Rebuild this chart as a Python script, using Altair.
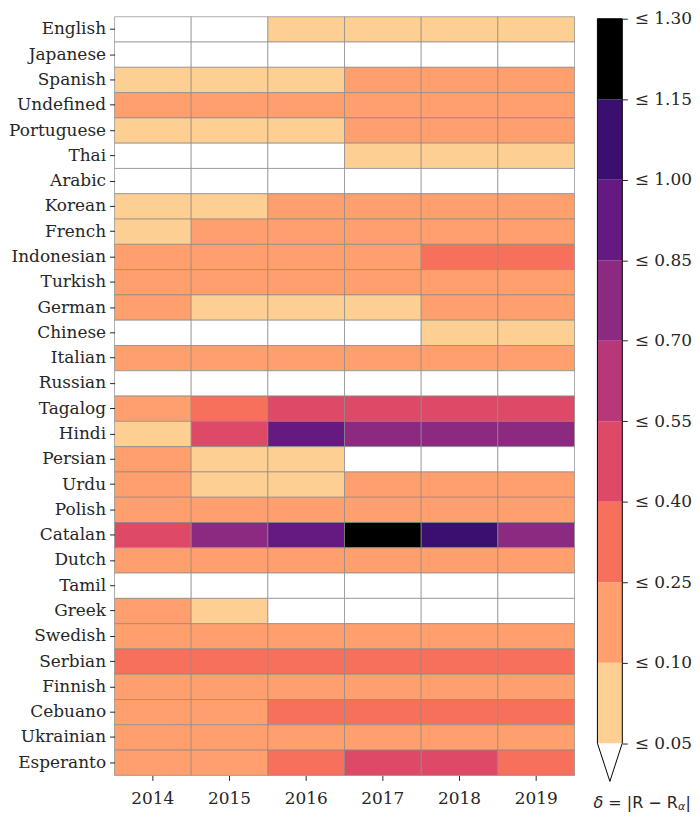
import altair as alt
import pandas as pd

languages = ["English", "Japanese", "Spanish", "Undefined", "Portuguese", "Thai", "Arabic",
             "Korean", "French", "Indonesian", "Turkish", "German", "Chinese", "Italian",
             "Russian", "Tagalog", "Hindi", "Persian", "Urdu", "Polish", "Catalan", "Dutch",
             "Tamil", "Greek", "Swedish", "Serbian", "Finnish", "Cebuano", "Ukrainian", "Esperanto"]
years = ["2014", "2015", "2016", "2017", "2018", "2019"]

delta_2014 = [0.03, 0.03, 0.08, 0.18, 0.08, 0.03, 0.03, 0.08, 0.08, 0.18, 0.18, 0.18, 0.03, 0.18, 0.03,
              0.18, 0.08, 0.18, 0.18, 0.18, 0.48, 0.18, 0.03, 0.18, 0.18, 0.32, 0.18, 0.18, 0.18, 0.18]
delta_2015 = [0.03, 0.02, 0.08, 0.17, 0.09, 0.03, 0.02, 0.09, 0.13, 0.19, 0.18, 0.09, 0.03, 0.17, 0.02,
              0.30, 0.45, 0.08, 0.08, 0.18, 0.76, 0.19, 0.02, 0.07, 0.18, 0.33, 0.18, 0.21, 0.18, 0.20]
delta_2016 = [0.07, 0.03, 0.09, 0.19, 0.09, 0.04, 0.03, 0.14, 0.16, 0.20, 0.19, 0.08, 0.04, 0.18, 0.02,
              0.45, 0.93, 0.09, 0.09, 0.19, 0.90, 0.18, 0.02, 0.04, 0.18, 0.34, 0.17, 0.29, 0.17, 0.31]
delta_2017 = [0.08, 0.03, 0.12, 0.20, 0.13, 0.07, 0.03, 0.16, 0.18, 0.22, 0.20, 0.09, 0.04, 0.19, 0.03,
              0.47, 0.80, 0.04, 0.14, 0.20, 1.24, 0.19, 0.03, 0.03, 0.19, 0.35, 0.18, 0.31, 0.18, 0.44]
delta_2018 = [0.08, 0.03, 0.14, 0.21, 0.15, 0.08, 0.04, 0.18, 0.19, 0.28, 0.21, 0.12, 0.07, 0.20, 0.03,
              0.48, 0.79, 0.04, 0.15, 0.21, 1.07, 0.20, 0.03, 0.03, 0.20, 0.36, 0.19, 0.33, 0.19, 0.46]
delta_2019 = [0.09, 0.04, 0.15, 0.22, 0.16, 0.09, 0.04, 0.19, 0.20, 0.30, 0.22, 0.14, 0.08, 0.21, 0.04,
              0.50, 0.77, 0.04, 0.16, 0.22, 0.80, 0.21, 0.03, 0.04, 0.21, 0.36, 0.20, 0.34, 0.20, 0.37]

bounds = [0.05, 0.10, 0.25, 0.40, 0.55, 0.70, 0.85, 1.00, 1.15, 1.30]
colors = ["#ffffff", "#fecf92", "#fe9f6d", "#f7705c", "#de4968", "#b73779",
          "#8c2981", "#641a80", "#3b0f70", "#000000"]
cbar_labels = ["≤ %.2f" % b for b in bounds]

columns = [delta_2014, delta_2015, delta_2016, delta_2017, delta_2018, delta_2019]
rows = []
for yr, col in zip(years, columns):
    for lang, v in zip(languages, col):
        rows.append({"language": lang, "year": yr, "delta": v})
df = pd.DataFrame(rows)

color_scale = alt.Scale(type="threshold", domain=bounds[:-1], range=colors)

heat = alt.Chart(df).mark_rect(stroke="#8a8a8a", strokeWidth=1, strokeOpacity=0.7).encode(
    x=alt.X("year:O", title=None,
            scale=alt.Scale(paddingInner=0, paddingOuter=0),
            axis=alt.Axis(labelAngle=0, tickSize=5, labelPadding=10, domain=False)),
    y=alt.Y("language:N", sort=languages, title=None,
            scale=alt.Scale(paddingInner=0, paddingOuter=0),
            axis=alt.Axis(tickSize=5, labelPadding=4, domain=False)),
    color=alt.Color("delta:Q", scale=color_scale, legend=None),
).properties(width=462, height=762)

# colorbar
nb = len(bounds) - 1
cb_rows = [{"lo": i, "hi": i + 1, "x0": 0, "x1": 1,
            "delta": (bounds[i] + bounds[i + 1]) / 2} for i in range(nb)]
cb_df = pd.DataFrame(cb_rows)
tip = -0.475
outline_df = pd.DataFrame({
    "px": [0, 1, 1, 0.5, 0, 0],
    "py": [nb, nb, 0, tip, 0, nb],
    "o": list(range(6)),
})

label_expr = "[" + ",".join("'%s'" % s for s in cbar_labels) + "][datum.value]"
ysc = alt.Scale(domain=[tip, nb + 0.025], nice=False, zero=False)
xsc = alt.Scale(domain=[0, 1], nice=False, zero=False)

cb_rect = alt.Chart(cb_df).mark_rect().encode(
    x=alt.X("x0:Q", scale=xsc, axis=None),
    x2="x1:Q",
    y=alt.Y("lo:Q", scale=ysc,
            axis=alt.Axis(orient="right", values=list(range(nb + 1)), labelExpr=label_expr,
                          tickSize=5, labelPadding=7, domain=False, grid=False, title=None)),
    y2="hi:Q",
    color=alt.Color("delta:Q", scale=color_scale, legend=None),
)
cb_line = alt.Chart(outline_df).mark_line(color="black", strokeWidth=1).encode(
    x=alt.X("px:Q", scale=xsc),
    y=alt.Y("py:Q", scale=ysc),
    order="o:Q",
)

# colorbar title: δ = |R − R_α|
title_df = pd.DataFrame({"a": ["δ"], "b": ["= |R − R"], "c": ["α"], "d": ["|"]})
ty = 790
tbase = alt.Chart(title_df)
t_a = tbase.mark_text(align="left", baseline="middle", font="DejaVu Sans", fontSize=16,
                      fontStyle="italic", color="#262626").encode(
    text="a:N", x=alt.value(-4), y=alt.value(ty))
t_b = tbase.mark_text(align="left", baseline="middle", font="DejaVu Sans", fontSize=16,
                      color="#262626").encode(
    text="b:N", x=alt.value(11), y=alt.value(ty))
t_c = tbase.mark_text(align="left", baseline="middle", font="DejaVu Sans", fontSize=11,
                      fontStyle="italic", color="#262626").encode(
    text="c:N", x=alt.value(81), y=alt.value(ty + 4))
t_d = tbase.mark_text(align="left", baseline="middle", font="DejaVu Sans", fontSize=16,
                      color="#262626").encode(
    text="d:N", x=alt.value(88.5), y=alt.value(ty))

cbar = alt.layer(cb_rect, cb_line, t_a, t_b, t_c, t_d).properties(width=25, height=768)

chart = alt.hconcat(heat, cbar, spacing=18).configure(
    padding=0
).configure_view(stroke=None).configure_axis(
    labelFont="DejaVu Serif", labelFontSize=17, labelColor="#262626",
    tickColor="#262626", tickWidth=1
)

chart.save("out.html", embed_options={"renderer": "svg", "actions": False})
